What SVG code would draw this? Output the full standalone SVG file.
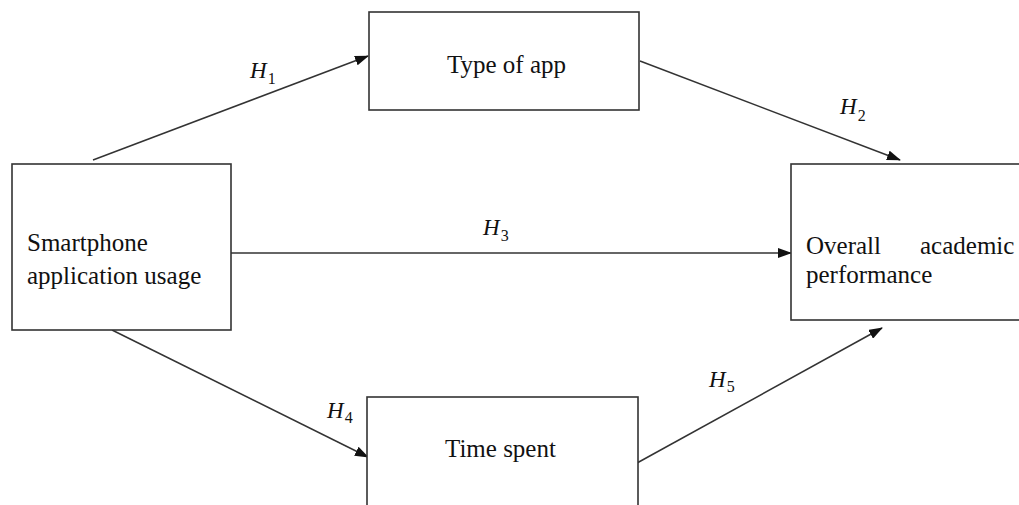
<svg xmlns="http://www.w3.org/2000/svg" width="1019" height="505" viewBox="0 0 1019 505">
<style>
.box{fill:#fff;stroke:#333;stroke-width:1.6}
.t{font-family:"Liberation Serif","Times New Roman",serif;font-size:25px;fill:#111}
.c{stroke:#333;stroke-width:1.5;fill:none;marker-end:url(#ah)}
.h{font-family:"Liberation Serif","Times New Roman",serif;font-size:23px;font-style:italic;fill:#111}
.s{font-style:normal;font-size:16px}
</style>
<defs>
<marker id="ah" viewBox="0 0 14 10" refX="13" refY="5" markerWidth="14" markerHeight="10" markerUnits="userSpaceOnUse" orient="auto">
<path d="M0,0 L14,5 L0,10 Z" fill="#111"/>
</marker>
</defs>
<rect width="1019" height="505" fill="#fff"/>
<g id="connectors">
<line class="c" x1="93" y1="160" x2="368" y2="56"/>
<line class="c" x1="640" y1="61" x2="900" y2="160"/>
<line class="c" x1="231" y1="253" x2="791" y2="253"/>
<line class="c" x1="112" y1="330" x2="368" y2="457"/>
<line class="c" x1="637" y1="463" x2="882" y2="328"/>
</g>
<g id="n-smartphone">
<rect class="box" x="12" y="164" width="219" height="166"/>
<text class="t" x="27" y="251">Smartphone</text>
<text class="t" x="27" y="284">application usage</text>
</g>
<g id="n-type">
<rect class="box" x="369" y="12" width="270" height="98"/>
<text class="t" x="447" y="73">Type of app</text>
</g>
<g id="n-overall">
<rect class="box" x="791" y="164" width="240" height="156"/>
<text class="t" x="806" y="254">Overall</text>
<text class="t" x="920" y="254">academic</text>
<text class="t" x="806" y="283">performance</text>
</g>
<g id="n-time">
<rect class="box" x="367" y="397" width="271" height="120"/>
<text class="t" x="445" y="457">Time spent</text>
</g>
<g id="labels">
<text class="h" x="250" y="78">H<tspan class="s" dx="1" dy="6">1</tspan></text>
<text class="h" x="840" y="114">H<tspan class="s" dx="1" dy="7">2</tspan></text>
<text class="h" x="483" y="235">H<tspan class="s" dx="1" dy="6">3</tspan></text>
<text class="h" x="327" y="418">H<tspan class="s" dx="1" dy="5">4</tspan></text>
<text class="h" x="709" y="387">H<tspan class="s" dx="1" dy="5">5</tspan></text>
</g>
</svg>
